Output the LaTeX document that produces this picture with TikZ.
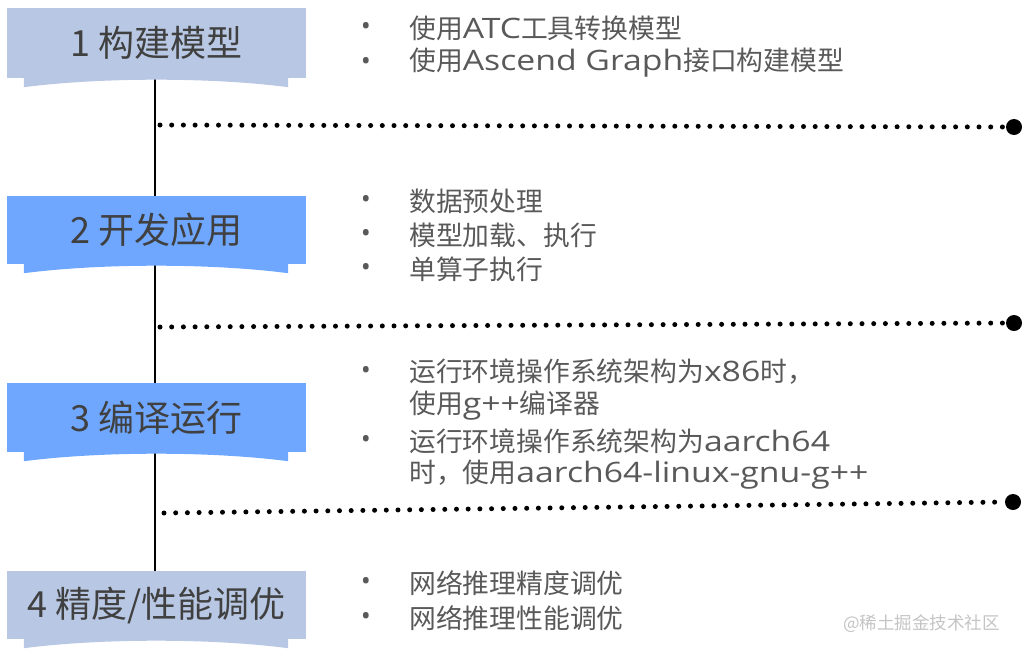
\documentclass[tikz,border=0pt]{standalone}
\usepackage{fontspec}
\setmainfont{Noto Sans CJK SC}
\newfontfamily\latfont[Scale=1.05, FakeStretch=1.2]{Open Sans}
\newfontfamily\bulfont{Open Sans}
\newcommand{\ltn}[1]{{\latfont #1}}
\usetikzlibrary{calc}
\definecolor{paleblue}{HTML}{B8C8E4}
\definecolor{brightblue}{HTML}{6FA7FE}
\definecolor{bannertext}{HTML}{404040}
\definecolor{bodytext}{HTML}{595959}
\definecolor{marktext}{HTML}{C4C4C4}
\tikzset{
  banner/.style={rectangle, minimum width=299pt, inner sep=0pt, text=bannertext,
    font=\fontsize{36}{40}\selectfont},
  line/.style={anchor=west, inner sep=0pt, text=bodytext, font=\fontsize{26.8}{32}\selectfont},
  bullet/.style={anchor=center, inner sep=0pt, text=bodytext, font=\bulfont\fontsize{26.8}{32}\selectfont},
  dotrow/.style={line width=5pt, line cap=round, dash pattern=on 0pt off 11.7pt},
  enddot/.style={circle, fill=black, minimum size=16pt, inner sep=0pt},
  spine/.style={line width=2pt, black},
}
\newcommand{\bannertab}[2]{%
  \fill[#2] ($(#1.south west)+(17,0)$) -- ($(#1.south west)+(17,9)$)
    .. controls ($(#1.south west)+(95,-1)$) and ($(#1.south east)+(-95,-1)$)
    .. ($(#1.south east)+(-18,9)$) -- ($(#1.south east)+(-18,0)$) -- cycle;}
\begin{document}
\begin{tikzpicture}[x=1pt, y=-1pt]
\useasboundingbox (0,0) rectangle (1024,654);
% spine first (behind banners)
\coordinate (sTop) at (155,78);
\coordinate (sBot) at (155,571);
\draw[spine] (sTop) -- (sBot);
% banners
\node[banner, fill=paleblue, minimum height=70pt] (b1) at (156.5,43) {1 构建模型};
\bannertab{b1}{paleblue}
\node[banner, fill=brightblue, minimum height=68pt] (b2) at (156.5,230) {2 开发应用};
\bannertab{b2}{brightblue}
\node[banner, fill=brightblue, minimum height=69pt] (b3) at (156.5,417.5) {3 编译运行};
\bannertab{b3}{brightblue}
\node[banner, fill=paleblue, minimum height=68pt] (b4) at (156.5,605) {4 精度/性能调优};
\bannertab{b4}{paleblue}
% dotted rows
\coordinate (r1s) at (160,125);
\node[enddot] (e1) at (1014,127) {};
\draw[dotrow] (r1s) -- (e1.west);
\coordinate (r2s) at (160,327);
\node[enddot] (e2) at (1014,323) {};
\draw[dotrow] (r2s) -- (e2.west);
\coordinate (r3s) at (164,513);
\node[enddot] (e3) at (1013,502) {};
\draw[dotrow] (r3s) -- (e3.west);
% group 1
\node[bullet] (p1a) at (366,29) {•};
\node[line] (t1a) at (409,28) {使用\ltn{ATC}工具转换模型};
\node[bullet] (p1b) at (366,64) {•};
\node[line] (t1b) at (409,63) {使用\ltn{Ascend Graph}接口构建模型};
% group 2
\node[bullet] (p2a) at (366,202) {•};
\node[line] (t2a) at (409,201) {数据预处理};
\node[bullet] (p2b) at (366,236) {•};
\node[line] (t2b) at (409,235) {模型加载、执行};
\node[bullet] (p2c) at (366,270) {•};
\node[line] (t2c) at (409,269) {单算子执行};
% group 3
\node[bullet] (p3a) at (366,373) {•};
\node[line] (t3a) at (409,372) {运行环境操作系统架构为\ltn{x86}时，};
\node[line] (t3b) at (409,406) {使用\ltn{g++}编译器};
\node[bullet] (p3c) at (366,442) {•};
\node[line] (t3c) at (409,441) {运行环境操作系统架构为\ltn{aarch64}};
\node[line] (t3d) at (409,475) {时，使用\ltn{aarch64-linux-gnu-g++}};
% group 4
\node[bullet] (p4a) at (366,584) {•};
\node[line] (t4a) at (409,583) {网络推理精度调优};
\node[bullet] (p4b) at (366,619) {•};
\node[line] (t4b) at (409,618) {网络推理性能调优};
% watermark
\node[anchor=west, inner sep=0pt, text=marktext, font=\fontsize{17.5}{20}\selectfont] (wm) at (843,624) {@稀土掘金技术社区};
\end{tikzpicture}
\end{document}
